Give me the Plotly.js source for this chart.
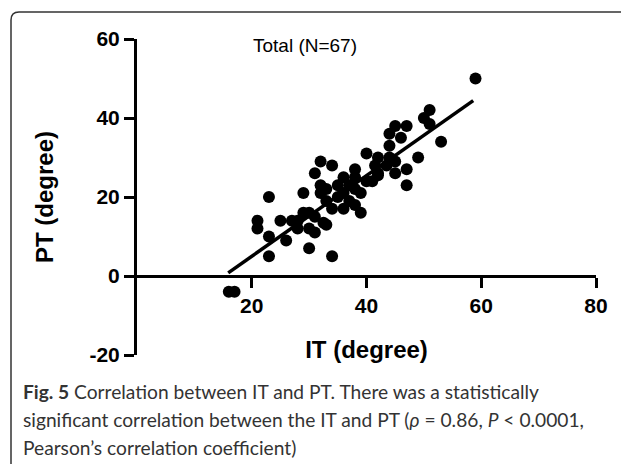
<!DOCTYPE html>
<html>
<head>
<meta charset="utf-8">
<script src="https://cdn.plot.ly/plotly-3.0.1.min.js"></script>
<style>
  html, body { margin: 0; padding: 0; background: #ffffff; }
  #chart { width: 621px; height: 464px; }
</style>
</head>
<body>
<div id="chart"></div>
<script>
// IT (degree) values
const itValues = [
  59, 51, 50, 51, 45, 47, 44, 46, 53, 44,
  40, 49, 42, 45, 41.5, 43.5, 47, 45, 42, 41,
  47, 39, 32, 34, 31, 38, 32, 32, 29, 23,
  39, 21, 27, 29, 32.5, 36, 37, 36, 35, 37,
  38, 38, 36, 34, 38, 35, 33, 21, 23, 26,
  23, 30, 34, 16, 17, 25, 28, 30, 31, 33,
  31, 28, 30, 33, 40, 42, 44
];
// PT (degree) values
const ptValues = [
  50, 42, 40, 38.5, 38, 38, 36, 35, 34, 33,
  31, 30, 30, 29, 28, 28, 27, 26, 25.5, 24,
  23, 21, 29, 28, 26, 27, 23, 21, 21, 20,
  16, 14, 14, 16, 13.5, 25, 23, 21, 20, 19,
  22, 25, 17, 17, 18, 23, 19, 12, 10, 9,
  5, 7, 5, -4, -4, 14, 12, 12, 15, 13,
  11, 14, 16, 22, 24, 26, 30
];
// Regression line end points
const fitX = [15.9, 58.6];
const fitY = [0.8, 44.4];

const xTicks = [20, 40, 60, 80];
const yTicks = [-20, 0, 20, 40, 60];

const chartLabel = 'Total (N=67)';
const xTitle = 'IT (degree)';
const yTitle = 'PT (degree)';
const captionLines = [
  '<b>Fig. 5</b> Correlation between IT and PT. There was a statistically',
  'significant correlation between the IT and PT (<i>ρ</i> = 0.86, <i>P</i> < 0.0001,',
  'Pearson’s correlation coefficient)'
];

const W = 621, H = 464;
const M = { l: 137, r: 25, t: 39, b: 109 };
const pw = W - M.l - M.r, ph = H - M.t - M.b;
const px = x => (x - M.l) / pw;
const py = y => (H - M.b - y) / ph;

const boldFont = 'Arial, "Liberation Sans", Helvetica, sans-serif';

const traces = [
  {
    x: itValues, y: ptValues, type: 'scatter', mode: 'markers',
    marker: { color: '#000000', size: 12 },
    hoverinfo: 'skip', showlegend: false
  },
  {
    x: fitX, y: fitY, type: 'scatter', mode: 'lines',
    line: { color: '#000000', width: 3.5 },
    hoverinfo: 'skip', showlegend: false
  }
];

const captionY = [391, 419, 447];
const annotations = captionLines.map((t, i) => ({
  xref: 'paper', yref: 'paper', x: px(21), y: py(captionY[i]),
  xanchor: 'left', yanchor: 'middle', showarrow: false, align: 'left',
  text: t, font: { family: 'Lato, "Open Sans", sans-serif', size: 19.2, color: '#333333' }
}));
annotations.push({
  xref: 'paper', yref: 'paper', x: px(305), y: py(45),
  xanchor: 'center', yanchor: 'middle', showarrow: false,
  text: chartLabel, font: { family: boldFont, size: 19, color: '#000000' }
});

const borderPath = `M ${px(W)} ${py(12)} L ${px(19)} ${py(12)} Q ${px(11)} ${py(12)} ${px(11)} ${py(20)} L ${px(11)} ${py(H + 2)}`;

const layout = {
  width: W, height: H,
  margin: M,
  paper_bgcolor: '#ffffff', plot_bgcolor: '#ffffff',
  showlegend: false,
  xaxis: {
    range: [0, 80], tickvals: xTicks, ticktext: xTicks.map(String),
    anchor: 'free', position: 0.25,
    showline: true, linecolor: '#000000', linewidth: 3,
    ticks: 'outside', ticklen: 10, tickwidth: 3, tickcolor: '#000000',
    showgrid: false, zeroline: false,
    tickfont: { family: boldFont, size: 21, color: '#000000', weight: 'bold' },
    title: { text: '<b>' + xTitle + '</b>', standoff: 24,
             font: { family: boldFont, size: 24, color: '#000000' } },
    fixedrange: true
  },
  yaxis: {
    range: [-20, 60], tickvals: yTicks, ticktext: yTicks.map(String),
    showline: true, linecolor: '#000000', linewidth: 3,
    ticks: 'outside', ticklen: 10, tickwidth: 3, tickcolor: '#000000',
    showgrid: false, zeroline: false,
    tickfont: { family: boldFont, size: 21, color: '#000000', weight: 'bold' },
    title: { text: '<b>' + yTitle + '</b>', standoff: 30,
             font: { family: boldFont, size: 24, color: '#000000' } },
    fixedrange: true
  },
  shapes: [{
    type: 'path', xref: 'paper', yref: 'paper', path: borderPath,
    line: { color: '#333333', width: 1.5 }
  }],
  annotations: annotations
};

Plotly.newPlot('chart', traces, layout, { staticPlot: true, displayModeBar: false });
</script>
</body>
</html>
